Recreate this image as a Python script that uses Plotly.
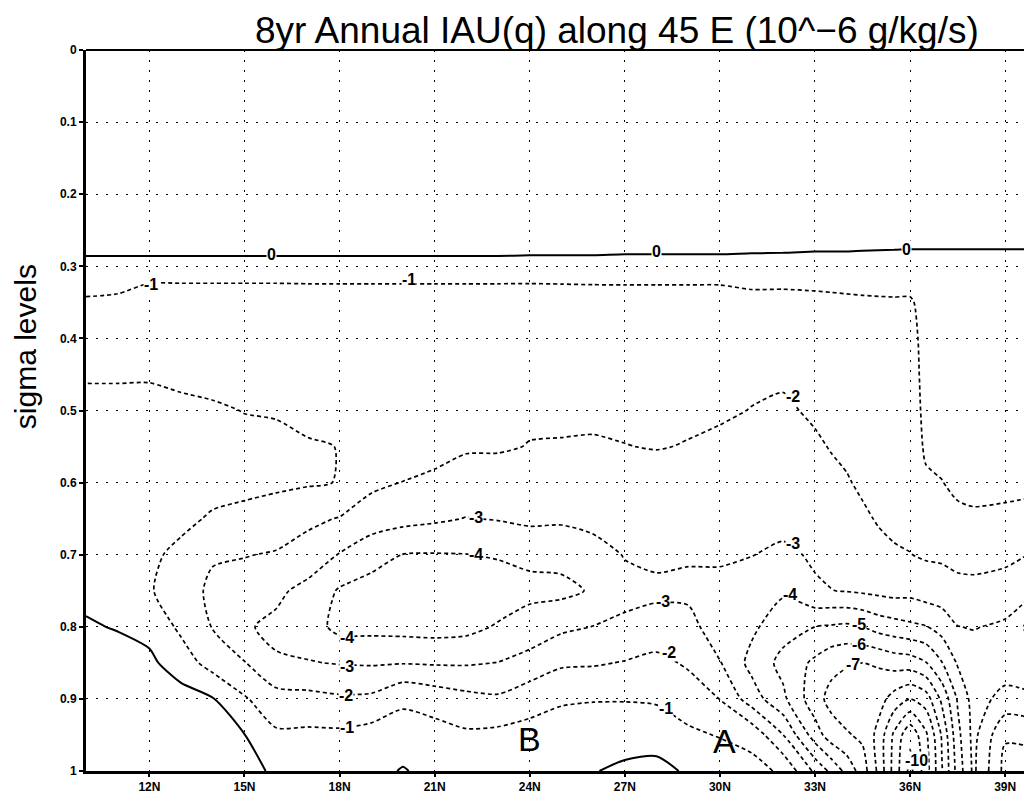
import numpy as np
import plotly.graph_objects as go

# latitude (deg N) of each column, sigma of each row
lat = [10, 11, 12, 13, 14, 15, 16, 17, 18, 19, 20, 21, 22, 23, 24, 25, 26, 27, 28, 29,
       30, 31, 32, 33, 33.5, 34, 34.5, 35, 35.5, 36, 36.5, 37, 37.5, 38, 39, 40]
sigma = [0, 0.25, 0.3, 0.35, 0.4, 0.45, 0.5, 0.55, 0.6, 0.65, 0.7, 0.75, 0.8, 0.85, 0.9, 0.95, 1.0]

# IAU(q), 10^-6 g/kg/s : one profile (top -> bottom) per latitude
iau_q = [
    [0.6, 0.5, -0.2, -1.15, -1.25, -1.05, -0.85, -0.7, -0.55, -0.4, -0.28, -0.12, 0.05, 0.3, 0.5, 0.7, 0.8],      # 10
    [0.6, 0.5, -0.2, -1.25, -1.3, -1.05, -0.85, -0.72, -0.6, -0.48, -0.35, -0.2, -0.03, 0.2, 0.45, 0.65, 0.75],   # 11
    [0.6, 0.5, -0.2, -1.9, -1.5, -1.03, -0.9, -0.85, -0.85, -0.88, -0.92, -0.95, -0.3, 0.2, 0.45, 0.6, 0.7],      # 12
    [0.6, 0.5, -0.2, -1.9, -1.6, -1.15, -0.85, -0.8, -0.82, -0.9, -1.1, -1.3, -1.2, -0.5, 0.4, 0.55, 0.6],        # 13
    [0.6, 0.5, -0.2, -1.9, -1.6, -1.25, -0.9, -0.8, -0.85, -1.05, -1.85, -2.3, -2.05, -1.4, 0.05, 0.4, 0.5],      # 14
    [0.6, 0.5, -0.2, -1.9, -1.65, -1.35, -1.02, -0.8, -0.85, -1.15, -1.95, -2.5, -2.9, -1.95, -0.9, 0.02, 0.3],   # 15
    [0.6, 0.5, -0.2, -1.9, -1.7, -1.45, -1.05, -0.85, -0.88, -1.3, -2.1, -2.8, -3.2, -2.9, -1.6, -0.85, -0.15],   # 16
    [0.6, 0.5, -0.2, -1.85, -1.75, -1.5, -1.3, -0.9, -0.9, -1.8, -2.4, -3.3, -3.5, -2.95, -1.7, -0.8, -0.5],      # 17
    [0.6, 0.5, -0.2, -1.85, -1.8, -1.6, -1.4, -1.02, -1.03, -2.05, -3.05, -4.1, -4.3, -3.05, -1.85, -0.8, -0.5],  # 18
    [0.6, 0.5, -0.2, -1.85, -1.85, -1.7, -1.55, -1.4, -1.75, -2.6, -3.5, -4.5, -4.3, -3.1, -1.8, -0.6, -0.45],    # 19
    [0.6, 0.5, -0.2, -1.85, -1.85, -1.75, -1.65, -1.6, -2.02, -2.7, -4.02, -4.6, -4.35, -3.05, -1.1, -0.75, 0.1], # 20
    [0.6, 0.5, -0.2, -1.85, -1.85, -1.8, -1.75, -1.75, -2.15, -2.85, -4.05, -4.7, -4.4, -3.1, -1.4, -0.65, -0.45],# 21
    [0.6, 0.5, -0.2, -1.85, -1.85, -1.85, -1.85, -1.9, -2.4, -3.03, -4.02, -4.8, -4.3, -3.1, -1.7, -0.85, -0.5],  # 22
    [0.6, 0.5, -0.2, -1.85, -1.85, -1.85, -1.9, -1.9, -2.45, -2.95, -3.9, -4.6, -3.9, -2.98, -1.85, -0.75, -0.5], # 23
    [0.6, 0.5, -0.22, -1.85, -1.8, -1.8, -1.85, -2.03, -2.4, -2.8, -3.75, -4.3, -3.5, -2.7, -1.35, -0.7, -0.5],   # 24
    [0.6, 0.5, -0.22, -1.8, -1.8, -1.8, -1.97, -2.01, -2.3, -2.85, -3.7, -4.25, -3.2, -2.15, -1.1, -0.6, -0.45],  # 25
    [0.6, 0.5, -0.22, -1.75, -1.75, -1.8, -1.98, -2.01, -2.2, -2.7, -3.4, -3.9, -2.98, -2.1, -1.05, -0.5, -0.05], # 26
    [0.6, 0.5, -0.25, -1.7, -1.7, -1.75, -1.9, -2.01, -2.15, -2.5, -2.95, -3.3, -2.8, -1.95, -1.05, -0.45, 0.2],  # 27
    [0.6, 0.5, -0.25, -1.7, -1.65, -1.7, -1.85, -1.98, -2.2, -2.45, -2.85, -3.15, -2.7, -1.7, -1.1, -0.5, 0.35],  # 28
    [0.6, 0.5, -0.25, -1.7, -1.65, -1.7, -1.92, -2.02, -2.3, -2.6, -2.9, -3.2, -2.7, -2.15, -1.4, -0.85, -0.15],  # 29
    [0.6, 0.5, -0.25, -1.7, -1.7, -1.75, -1.9, -2.15, -2.35, -2.6, -2.85, -3.3, -3.5, -2.95, -2.02, -1.05, -0.5], # 30
    [0.6, 0.5, -0.28, -1.4, -1.75, -1.85, -2.02, -2.3, -2.55, -2.8, -2.98, -3.4, -3.8, -4.3, -3.5, -1.3, -0.7],   # 31
    [0.6, 0.5, -0.3, -1.4, -1.6, -1.85, -2.15, -2.35, -2.55, -2.75, -3.15, -3.85, -4.6, -5.3, -4.8, -3.0, -1.15], # 32
    [0.6, 0.5, -0.35, -1.3, -1.45, -1.6, -1.85, -2.15, -2.4, -2.6, -2.9, -3.1, -5.0, -6.2, -6.6, -5.5, -3.2],     # 33
    [0.6, 0.5, -0.35, -1.25, -1.35, -1.5, -1.7, -1.95, -2.25, -2.5, -2.75, -3.02, -5.1, -6.7, -7.3, -6.5, -4.2],  # 33.5
    [0.6, 0.5, -0.35, -1.2, -1.3, -1.4, -1.55, -1.75, -2.1, -2.4, -2.65, -2.95, -5.2, -6.9, -7.6, -6.9, -5.3],    # 34
    [0.6, 0.5, -0.38, -1.15, -1.25, -1.35, -1.45, -1.6, -1.8, -2.2, -2.5, -2.85, -5.0, -7.0, -7.8, -7.2, -6.5],   # 34.5
    [0.6, 0.5, -0.4, -1.12, -1.2, -1.3, -1.4, -1.5, -1.65, -1.9, -2.35, -2.75, -4.6, -6.9, -7.6, -8.3, -8.2],     # 35
    [0.6, 0.5, -0.42, -1.1, -1.25, -1.3, -1.35, -1.45, -1.55, -1.7, -2.15, -2.65, -4.4, -6.6, -8.4, -10.2, -10.4],# 35.5
    [0.6, 0.5, -0.45, -1.1, -1.2, -1.25, -1.3, -1.4, -1.55, -1.75, -2.02, -2.7, -4.2, -6.5, -9.0, -11.8, -12.3],  # 36
    [0.6, 0.5, -0.45, -0.7, -0.8, -0.82, -0.85, -0.9, -1.1, -1.5, -1.9, -2.5, -4.05, -6.05, -8.5, -10.2, -10.5],  # 36.5
    [0.6, 0.5, -0.45, -0.55, -0.6, -0.6, -0.65, -0.8, -1.02, -1.45, -1.85, -2.45, -3.6, -5.05, -6.8, -7.9, -8.1], # 37
    [0.6, 0.5, -0.45, -0.55, -0.6, -0.6, -0.6, -0.65, -0.85, -1.15, -1.7, -2.3, -3.02, -3.9, -4.9, -5.3, -5.6],   # 37.5
    [0.6, 0.5, -0.45, -0.55, -0.6, -0.6, -0.6, -0.65, -0.8, -1.1, -1.75, -2.2, -2.95, -3.5, -3.6, -3.7, -3.8],    # 38
    [0.6, 0.5, -0.45, -0.55, -0.6, -0.6, -0.6, -0.62, -0.75, -1.2, -1.75, -2.45, -3.15, -3.5, -4.3, -5.9, -6.3],  # 39
    [0.6, 0.5, -0.45, -0.55, -0.6, -0.6, -0.6, -0.62, -0.75, -1.4, -2.1, -3.02, -4.6, -3.7, -4.05, -5.7, -6.5],   # 40
]

x_tick_vals = [12, 15, 18, 21, 24, 27, 30, 33, 36, 39]
x_tick_text = ["12N", "15N", "18N", "21N", "24N", "27N", "30N", "33N", "36N", "39N"]
y_tick_vals = [0, 0.1, 0.2, 0.3, 0.4, 0.5, 0.6, 0.7, 0.8, 0.9, 1]
y_tick_text = ["0", "0.1", "0.2", "0.3", "0.4", "0.5", "0.6", "0.7", "0.8", "0.9", "1"]

# contour labels as printed on the chart: (text, lat, sigma)
label_text = ["0", "0", "0", "-1", "-1", "-1", "-1", "-2", "-2", "-2",
              "-3", "-3", "-3", "-3", "-4", "-4", "-4", "-5", "-6", "-7", "-10"]
label_lat = [15.85, 28.0, 35.9, 12.05, 20.2, 18.25, 28.3, 18.2, 32.3, 28.4,
             22.3, 18.25, 32.3, 28.2, 22.3, 18.25, 32.2, 34.4, 34.4, 34.2, 36.2]
label_sigma = [0.283, 0.279, 0.277, 0.325, 0.318, 0.94, 0.914, 0.895, 0.48, 0.835,
               0.649, 0.855, 0.685, 0.765, 0.70, 0.815, 0.755, 0.797, 0.825, 0.852, 0.985]

title_text = "8yr Annual IAU(q) along 45 E (10^\u22126 g/kg/s)"
marks = [("B", 24.0, 0.955), ("A", 30.15, 0.958)]

z = np.array(iau_q).T

black = [[0, "black"], [1, "black"]]

fig = go.Figure()
# negative contours, dashed
fig.add_trace(go.Contour(
    x=lat, y=sigma, z=z,
    contours=dict(start=-14, end=-1, size=1, coloring="lines", showlabels=False),
    colorscale=black, showscale=False,
    line=dict(width=1.7, dash="4px,3px", smoothing=0.7),
    hoverinfo="skip",
))
# zero contour, solid
fig.add_trace(go.Contour(
    x=lat, y=sigma, z=z,
    contours=dict(start=0, end=0, size=1, coloring="lines", showlabels=False),
    colorscale=black, showscale=False,
    line=dict(width=2, smoothing=0.7),
    hoverinfo="skip",
))

for t, xv, yv in zip(label_text, label_lat, label_sigma):
    fig.add_annotation(x=xv, y=yv, xref="x", yref="y", text=t, showarrow=False,
                       bgcolor="white", borderpad=0, xanchor="center", yanchor="middle",
                       font=dict(size=16, color="black", weight="bold",
                                 family="Liberation Sans Narrow, Liberation Sans, Arial"))

for txt, xv, yv in marks:
    fig.add_annotation(x=xv, y=yv, xref="x", yref="y", text=txt, showarrow=False,
                       font=dict(size=34, color="black", family="Liberation Sans, Arial"))

fig.add_annotation(xref="paper", yref="paper", x=-0.065, y=0.589, text="sigma levels",
                   textangle=-90, showarrow=False, xanchor="center", yanchor="middle",
                   font=dict(size=30, color="black", family="Liberation Sans, Arial"))

# top and right frame lines (thinner than left/bottom axis lines)
fig.add_shape(type="line", xref="paper", yref="paper", x0=0, x1=1, y0=1, y1=1,
              line=dict(color="black", width=2))
fig.add_shape(type="line", xref="paper", yref="paper", x0=1, x1=1, y0=0, y1=1,
              line=dict(color="black", width=2))

tick_font = dict(size=12, color="black", family="Liberation Sans Narrow, Liberation Sans, Arial",
                 weight="bold")

fig.update_layout(
    width=1032, height=799,
    margin=dict(l=78, r=13, t=42, b=36),
    paper_bgcolor="white", plot_bgcolor="white",
    showlegend=False,
    title=dict(text=title_text, xref="container", x=0.59, xanchor="center",
               yref="container", y=0.972, yanchor="middle",
               font=dict(size=37, color="black", family="Liberation Sans, Arial")),
    xaxis=dict(range=[10, 39.69], tickvals=x_tick_vals, ticktext=x_tick_text,
               showgrid=True, gridcolor="black", gridwidth=1.3, griddash="2px,8px",
               showline=True, linecolor="black", linewidth=3,
               ticks="outside", ticklen=3, tickwidth=1.5, tickcolor="black",
               tickfont=tick_font, zeroline=False),
    yaxis=dict(range=[1, 0], tickvals=y_tick_vals, ticktext=y_tick_text,
               showgrid=True, gridcolor="black", gridwidth=1.3, griddash="2px,8px",
               showline=True, linecolor="black", linewidth=3,
               ticks="outside", ticklen=4, tickwidth=1.5, tickcolor="black",
               tickfont=tick_font, zeroline=False),
)

fig.write_html("out.html")
